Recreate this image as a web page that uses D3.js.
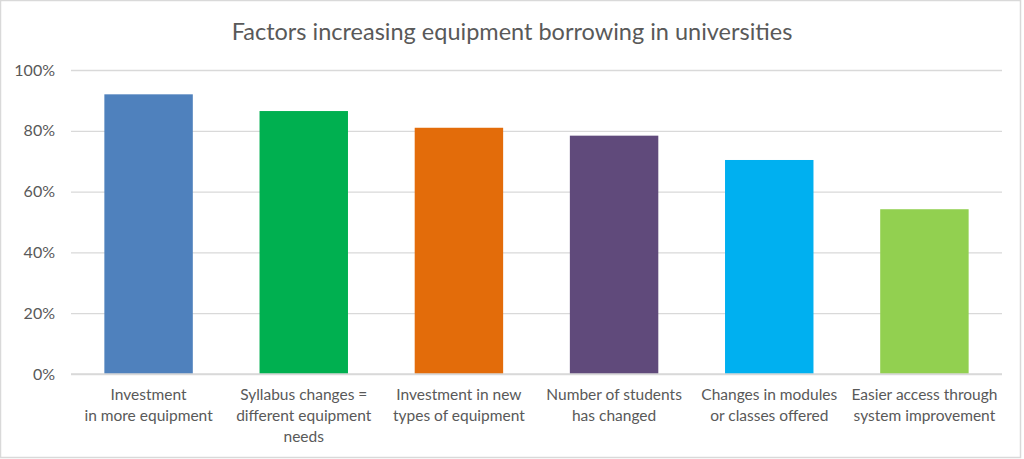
<!DOCTYPE html>
<html><head><meta charset="utf-8">
<script src="https://cdn.jsdelivr.net/npm/d3@7"></script>
<style>
html,body{margin:0;padding:0;background:#fff;}
svg{display:block;font-family:Lato,"Open Sans",sans-serif;}
</style></head>
<body>
<svg id="chart" width="1024" height="459"></svg>
<script>
const categories = [
  ["Investment", "in more equipment"],
  ["Syllabus changes =", "different equipment", "needs"],
  ["Investment in new", "types of equipment"],
  ["Number of students", "has changed"],
  ["Changes in modules", "or classes offered"],
  ["Easier access through", "system improvement"]
];
const values = [0.92, 0.865, 0.81, 0.784, 0.704, 0.542];
const colors = ["#4F81BD", "#00B050", "#E36C0A", "#604A7B", "#00B0F0", "#92D050"];
const yTicks = [0, 0.2, 0.4, 0.6, 0.8, 1.0];
const title = "Factors increasing equipment borrowing in universities";

const svg = d3.select("#chart");
const m = {left: 71, right: 1002, top: 70, bottom: 374};

svg.append("rect").attr("x", 0.5).attr("y", 0.5).attr("width", 1020).attr("height", 457)
  .attr("fill", "#fff").attr("stroke", "#D9D9D9").attr("stroke-width", 1.5);

const x = d3.scaleBand().domain(d3.range(categories.length)).range([m.left, m.right]).paddingInner(0.43).paddingOuter(0.215);
const y = d3.scaleLinear().domain([0, 1]).range([m.bottom, m.top]);

// gridlines + tick labels
const yAxis = d3.axisLeft(y).tickValues(yTicks).tickFormat(d3.format(".0%")).tickSize(-(m.right - m.left)).tickPadding(16);
const gy = svg.append("g").attr("transform", `translate(${m.left},0)`).call(yAxis);
gy.select(".domain").remove();
gy.selectAll(".tick line").attr("stroke", "#D9D9D9").attr("stroke-width", 1.3);
gy.selectAll(".tick text").attr("fill", "#595959").attr("font-size", 16).attr("font-family", "Lato, sans-serif");

// bars
svg.append("g").selectAll("rect").data(values).join("rect")
  .attr("x", (d, i) => x(i))
  .attr("width", x.bandwidth())
  .attr("y", d => y(d))
  .attr("height", d => y(0) - y(d))
  .attr("fill", (d, i) => colors[i]);

// baseline axis
svg.append("line").attr("x1", m.left).attr("x2", m.right).attr("y1", y(0)).attr("y2", y(0))
  .attr("stroke", "#D9D9D9").attr("stroke-width", 1.3);

// category labels
const lab = svg.append("g").selectAll("text").data(categories).join("text")
  .attr("text-anchor", "middle").attr("fill", "#595959").attr("font-size", 15.5)
  .attr("x", (d, i) => x(i) + x.bandwidth() / 2)
  .attr("y", 400);
lab.selectAll("tspan").data(d => d).join("tspan")
  .attr("x", function() { return d3.select(this.parentNode).attr("x"); })
  .attr("dy", (d, j) => j === 0 ? 0 : 21)
  .text(d => d);

// title
svg.append("text").attr("x", 512).attr("y", 40).attr("text-anchor", "middle")
  .attr("fill", "#595959").attr("font-size", 23.5).text(title);
</script>
</body></html>
